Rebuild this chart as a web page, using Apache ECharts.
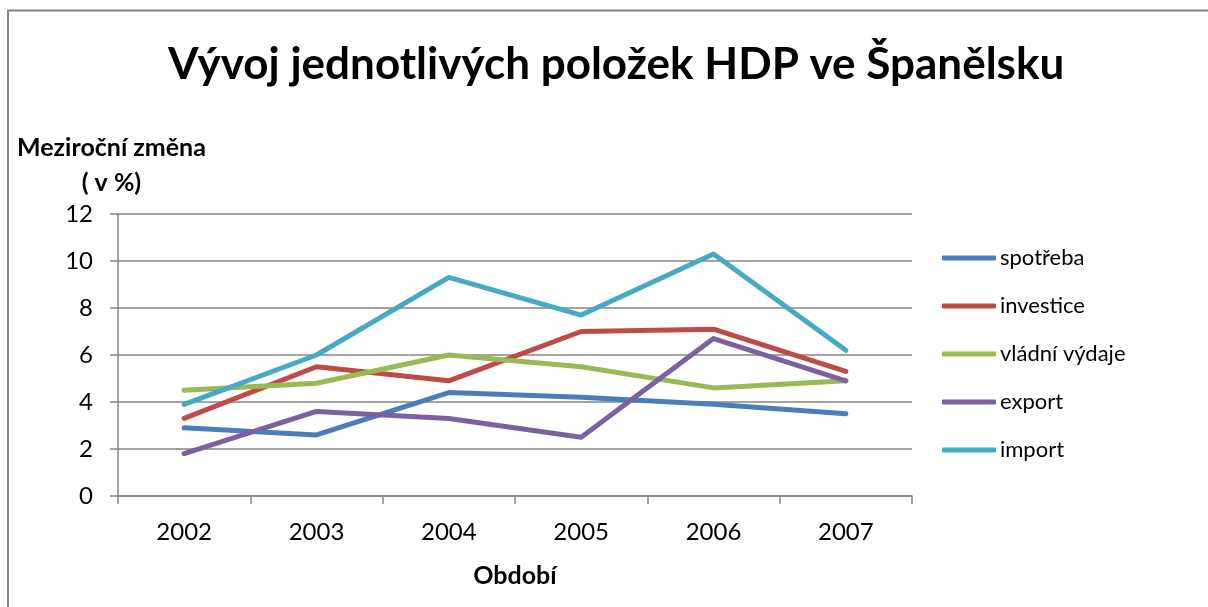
<!DOCTYPE html>
<html>
<head>
<meta charset="utf-8">
<script src="https://cdn.jsdelivr.net/npm/echarts@6/dist/echarts.min.js"></script>
<style>
html,body{margin:0;padding:0;background:#fff;}
#chart{width:1208px;height:607px;}
</style>
</head>
<body>
<div id="chart"></div>
<script>
const categories = ['2002','2003','2004','2005','2006','2007'];
const spotreba = [2.9, 2.6, 4.4, 4.2, 3.9, 3.5];
const investice = [3.3, 5.5, 4.9, 7.0, 7.1, 5.3];
const vladniVydaje = [4.5, 4.8, 6.0, 5.5, 4.6, 4.9];
const exportVals = [1.8, 3.6, 3.3, 2.5, 6.7, 4.9];
const importVals = [3.9, 6.0, 9.3, 7.7, 10.3, 6.2];
const seriesNames = ['spotřeba','investice','vládní výdaje','export','import'];
const colors = ['#4A7EBB','#BE4B48','#98B954','#7D60A0','#46AAC5'];
const seriesData = [spotreba, investice, vladniVydaje, exportVals, importVals];

const FONT = 'Lato';
const chart = echarts.init(document.getElementById('chart'));
chart.setOption({
  animation: false,
  backgroundColor: '#fff',
  textStyle: {fontFamily: FONT},
  title: {
    text: 'Vývoj jednotlivých položek HDP ve Španělsku',
    left: 163, top: 38,
    textStyle: {fontSize: 44, fontWeight: 'bold', color: '#000', fontFamily: FONT}
  },
  graphic: [{
    type: 'polyline', silent: true,
    shape: {points: [[8, 640], [8, 10.5], [1240, 10.5]]},
    style: {stroke: '#868686', lineWidth: 2, fill: null}
  }, {
    type: 'text', left: 17, top: 130,
    style: {text: 'Meziroční změna\n( v %)', textAlign: 'center', fontSize: 25, fontWeight: 'bold', fill: '#000', fontFamily: FONT, lineHeight: 35}
  }],
  legend: {
    orient: 'vertical', left: 937, top: 242,
    itemWidth: 54, itemHeight: 5, itemGap: 26,
    icon: 'roundRect',
    textStyle: {fontSize: 22, color: '#000', fontFamily: FONT, padding: [0,0,0,-1]},
    data: seriesNames
  },
  grid: {left: 118, top: 214, right: 296, bottom: 111, containLabel: false},
  xAxis: {
    type: 'category', data: categories, boundaryGap: true,
    name: 'Období', nameLocation: 'middle', nameGap: 67,
    nameTextStyle: {fontSize: 25, fontWeight: 'bold', color: '#000', fontFamily: FONT},
    axisLine: {lineStyle: {color: '#868686', width: 1.5}},
    axisTick: {show: true, length: 8, lineStyle: {color: '#868686', width: 1.5}},
    axisLabel: {fontSize: 24, color: '#000', margin: 24, fontFamily: FONT}
  },
  yAxis: {
    type: 'value', min: 0, max: 12, interval: 2,
    axisLine: {show: true, lineStyle: {color: '#868686', width: 1.5}},
    axisTick: {show: true, length: 8, lineStyle: {color: '#868686', width: 1.5}},
    axisLabel: {fontSize: 24, color: '#000', margin: 25, fontFamily: FONT},
    splitLine: {lineStyle: {color: '#868686', width: 1.5}}
  },
  series: seriesNames.map((n, i) => ({
    name: n, type: 'line', data: seriesData[i],
    symbol: 'none', color: colors[i],
    lineStyle: {width: 5, color: colors[i], cap: 'round', join: 'round'}
  }))
});
</script>
</body>
</html>
